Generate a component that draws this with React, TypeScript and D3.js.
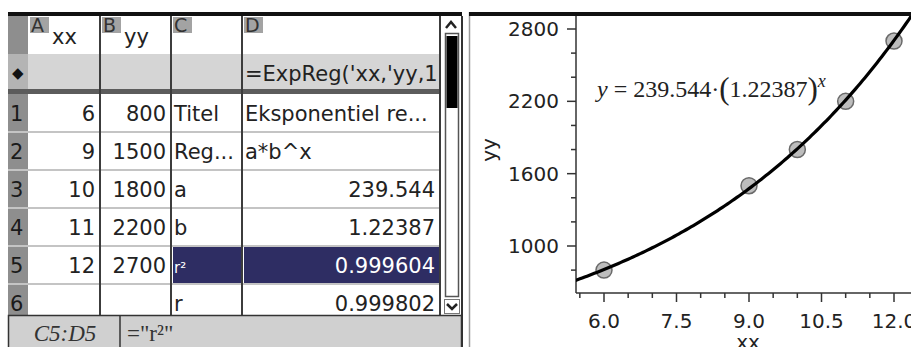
import * as d3 from 'd3'

// spreadsheet columns
const xx = [6, 9, 10, 11, 12]
const yy = [800, 1500, 1800, 2200, 2700]
const colC = ['Titel', 'Reg...', 'a', 'b', 'r²', 'r']
const colD = ['Eksponentiel re...', 'a*b^x', '239.544', '1.22387', '0.999604', '0.999802']
const colLetters = ['A', 'B', 'C', 'D']
const colNames = ['xx', 'yy', '', '']
const formula = "=ExpReg('xx,'yy,1"
const rowLabels = ['1', '2', '3', '4', '5', '6']

// regression result
const regA = 239.544
const regB = 1.22387

const yTicks = [1000, 1600, 2200, 2800]
const xTicks = [6, 7.5, 9, 10.5, 12]

const W = 911, H = 347
const cellFont = 'DejaVu Sans, sans-serif'

const colEdges = [28, 100, 171, 242, 440]
const rowY = d3.scaleLinear().domain([0, 1]).range([94, 132])

const x = d3.scaleLinear().domain([6, 12]).range([604, 894])
const y = d3.scaleLinear().domain([1000, 2800]).range([246, 29])
const plotLeft = 576, plotBottom = 293, plotTop = 16

const Sheet = () => {
  const cols = [xx.map(String), yy.map(String), colC, colD]
  const rightAligned = [true, true, false, false]
  return (
    <g fontFamily={cellFont}>
      <defs>
        <clipPath id="sheetClip"><rect x={8} y={16} width={432} height={299} /></clipPath>
      </defs>
      {/* row header strip */}
      <rect x={8} y={16} width={20} height={299} fill="#8e8e8e" />
      {/* formula row */}
      <rect x={28} y={54} width={412} height={35} fill="#d5d5d5" />
      <rect x={8} y={54} width={20} height={35} fill="#b4b4b4" />
      <text x={12} y={78} fontSize={15} fill="#111">◆</text>
      <rect x={8} y={89} width={432} height={5} fill="#5c5c5c" />
      {/* row lines */}
      {rowLabels.map((r, i) => (
        <g key={r}>
          <line x1={8} x2={440} y1={rowY(i + 1)} y2={rowY(i + 1)} stroke="#c4c4c4" strokeWidth={2} />
          <text x={10} y={rowY(i) + 27} fontSize={21} fill="#1a1a1a">{r}</text>
        </g>
      ))}
      {/* highlight C5:D5 */}
      <rect x={173} y={rowY(4) + 1} width={68} height={36} fill="#2e2d63" />
      <rect x={244} y={rowY(4) + 1} width={195} height={36} fill="#2e2d63" />
      {/* column headers */}
      {colLetters.map((c, i) => (
        <g key={c}>
          <rect x={colEdges[i] + 2} y={17} width={19} height={16} fill="#a3a3a3" />
          <text x={colEdges[i] + 3} y={32} fontSize={19} fill="#333">{c}</text>
          <text x={colEdges[i] + 24} y={44} fontSize={21} fill="#222">{colNames[i]}</text>
        </g>
      ))}
      <g clipPath="url(#sheetClip)">
        <text x={245} y={81} fontSize={21} fill="#222">{formula}</text>
        {cols.map((col, ci) => col.map((v, ri) => {
          const hl = ri === 4 && ci >= 2
          const isR2 = ci === 2 && ri === 4
          const right = rightAligned[ci] || (ci === 3 && ri >= 2)
          return (
            <text key={ci + '-' + ri}
              x={right ? colEdges[ci + 1] - 5 : colEdges[ci] + 3}
              y={rowY(ri) + 27}
              textAnchor={right ? 'end' : 'start'}
              fontSize={isR2 ? 15 : 21}
              fill={hl ? '#fff' : '#222'}>{v}</text>
          )
        }))}
      </g>
      {/* column lines */}
      {colEdges.slice(1).map(e => (
        <line key={e} x1={e} x2={e} y1={16} y2={315} stroke="#3c3c3c" strokeWidth={2} />
      ))}
      {/* scrollbar */}
      <rect x={441} y={16} width={20} height={299} fill="#fff" />
      <path d="M446,28 L451,22 L456,28" fill="none" stroke="#222" strokeWidth={2.5} />
      <rect x={445.5} y={33.5} width={13} height={263} fill="#fff" stroke="#555" strokeWidth={1.5} />
      <rect x={446.5} y={36} width={11} height={72} fill="#000" />
      <rect x={444.5} y={299.5} width={15} height={14} fill="#fff" stroke="#777" />
      <path d="M447,304 L452,309 L457,304" fill="none" stroke="#222" strokeWidth={2.5} />
      <line x1={462} x2={462} y1={16} y2={347} stroke="#333" strokeWidth={2} />
      {/* formula bar */}
      <rect x={8.5} y={315.5} width={453} height={40} fill="#d0d0d0" stroke="#333" strokeWidth={1.5} />
      <line x1={120} x2={120} y1={315} y2={347} stroke="#333" strokeWidth={1.5} />
      <text x={65} y={341} textAnchor="middle" fontFamily="Liberation Serif, serif" fontStyle="italic" fontSize={23} fill="#333">C5:D5</text>
      <text x={127} y={341} fontFamily="Liberation Serif, serif" fontSize={23} fill="#333">="r²"</text>
      {/* top border */}
      <rect x={8} y={12} width={454} height={4} fill="#111" />
    </g>
  )
}

const Graph = () => {
  const samples = d3.range(5.3, 12.5, 0.05)
  const line = d3.line<number>().x(d => x(d)).y(d => y(regA * Math.pow(regB, d)))
  const yMinor = d3.range(800, 2801, 200).filter(v => !yTicks.includes(v))
  const xMinor = d3.range(5.5, 12.01, 0.5).filter(v => !xTicks.includes(v))
  return (
    <g>
      <defs>
        <clipPath id="plotClip"><rect x={plotLeft} y={plotTop} width={W - plotLeft} height={plotBottom - plotTop} /></clipPath>
      </defs>
      <line x1={469.5} x2={469.5} y1={12} y2={H} stroke="#9a9a9a" strokeWidth={1.5} />
      {/* axes */}
      <line x1={plotLeft} x2={plotLeft} y1={plotTop} y2={plotBottom} stroke="#333" strokeWidth={1.5} />
      <line x1={plotLeft} x2={W} y1={plotBottom} y2={plotBottom} stroke="#333" strokeWidth={1.5} />
      {yTicks.map(t => (
        <g key={t}>
          <line x1={plotLeft - 9} x2={plotLeft} y1={y(t)} y2={y(t)} stroke="#333" strokeWidth={1.5} />
          <text x={559} y={y(t) + 7} textAnchor="end" fontFamily={cellFont} fontSize={20} fill="#222">{t}</text>
        </g>
      ))}
      {yMinor.map(t => (
        <line key={t} x1={plotLeft - 5} x2={plotLeft} y1={y(t)} y2={y(t)} stroke="#333" strokeWidth={1.5} />
      ))}
      {xTicks.map(t => (
        <g key={t}>
          <line x1={x(t)} x2={x(t)} y1={plotBottom} y2={plotBottom + 9} stroke="#333" strokeWidth={1.5} />
          <text x={x(t)} y={328} textAnchor="middle" fontFamily={cellFont} fontSize={20} fill="#222">{t.toFixed(1)}</text>
        </g>
      ))}
      {xMinor.map(t => (
        <line key={t} x1={x(t)} x2={x(t)} y1={plotBottom} y2={plotBottom + 5} stroke="#333" strokeWidth={1.5} />
      ))}
      <text x={748} y={349} textAnchor="middle" fontFamily={cellFont} fontSize={20} fill="#222">xx</text>
      <text transform="translate(496,150) rotate(-90)" textAnchor="middle" fontFamily={cellFont} fontSize={20} fill="#222">yy</text>
      {/* data and fit */}
      <g clipPath="url(#plotClip)">
        {xx.map((v, i) => (
          <circle key={v} cx={x(v)} cy={y(yy[i])} r={8} fill="#bdbdbd" stroke="#6a6a6a" strokeWidth={1.5} />
        ))}
        <path d={line(samples) ?? ''} fill="none" stroke="#000" strokeWidth={3.2} />
      </g>
      {/* equation */}
      <text x={597} y={97} fontFamily="Liberation Serif, serif" fontSize={24} fill="#222">
        <tspan fontStyle="italic">y</tspan>
        <tspan> = {regA}·</tspan>
        <tspan fontSize={31} dy={2}>(</tspan>
        <tspan dy={-2}>{regB}</tspan>
        <tspan fontSize={31} dy={2}>)</tspan>
        <tspan fontStyle="italic" fontSize={18} dy={-12}>x</tspan>
      </text>
      <rect x={469} y={12} width={W - 469} height={4} fill="#111" />
    </g>
  )
}

export default function App() {
  return (
    <svg width={W} height={H} style={{ position: 'absolute', left: 0, top: 0, background: '#fff' }}>
      <rect width={W} height={H} fill="#fff" />
      <Sheet />
      <Graph />
    </svg>
  )
}
